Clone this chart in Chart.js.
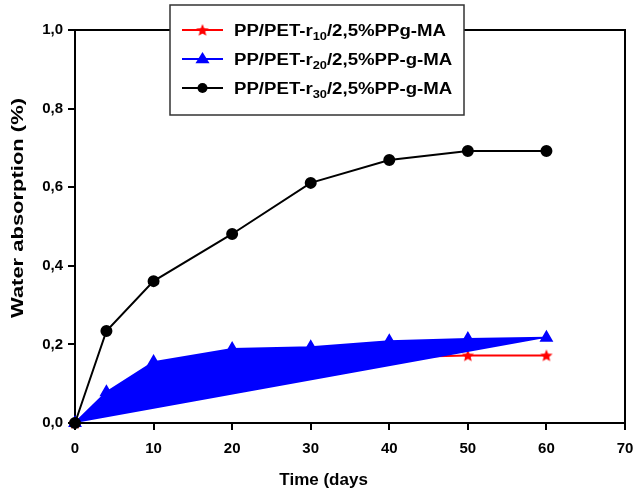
<!DOCTYPE html>
<html>
<head>
<meta charset="utf-8">
<script src="https://cdn.jsdelivr.net/npm/chart.js@4/dist/chart.umd.min.js"></script>
<style>
  html, body { margin: 0; padding: 0; background: #fff; }
  #wrap { width: 634px; height: 491px; position: relative; }
</style>
</head>
<body>
<div id="wrap"><canvas id="c"></canvas></div>
<script>
// Immersion time (days) and water uptake (%) for each blend
const days = [0, 4, 10, 20, 30, 40, 50, 60];
const r10Values = [0, 0.06, 0.12, 0.15, 0.16, 0.167, 0.172, 0.172];
const r20Values = [0, 0.078, 0.155, 0.188, 0.193, 0.208, 0.214, 0.217];
const r30Values = [0, 0.234, 0.361, 0.481, 0.611, 0.669, 0.692, 0.692];

// Axis ticks
const xTicks = [0, 10, 20, 30, 40, 50, 60, 70];
const yTicks = [0, 0.2, 0.4, 0.6, 0.8, 1.0];
const yTickLabels = ['0,0', '0,2', '0,4', '0,6', '0,8', '1,0'];

// Legend names: [base, subscript, rest]
const seriesNames = [
  ['PP/PET-r', '10', '/2,5%PPg-MA'],
  ['PP/PET-r', '20', '/2,5%PP-g-MA'],
  ['PP/PET-r', '30', '/2,5%PP-g-MA']
];
const xTitle = 'Time (days';
const yTitle = 'Water absorption (%)';

const FONT = "'Liberation Sans', Arial, Helvetica, sans-serif";
const RED = '#ff0000', BLUE = '#0000ff', BLACK = '#000000';

const toPoints = (xs, ys) => xs.map((x, i) => ({ x: x, y: ys[i] }));
const r20Points = toPoints(days, r20Values);
// closing chord of the r20 band: first point to last point
const r20Chord = [r20Points[0], r20Points[r20Points.length - 1]];

// filled five-point star marker
function makeStar(size, color) {
  const cv = document.createElement('canvas');
  cv.width = size; cv.height = size;
  const g = cv.getContext('2d');
  const cx = size / 2, cy = size / 2, ro = size / 2 - 0.5, ri = ro * 0.45;
  g.beginPath();
  for (let i = 0; i < 10; i++) {
    const r = i % 2 === 0 ? ro : ri;
    const a = -Math.PI / 2 + i * Math.PI / 5;
    const px = cx + r * Math.cos(a), py = cy + r * Math.sin(a) + 0.6;
    if (i === 0) g.moveTo(px, py); else g.lineTo(px, py);
  }
  g.closePath();
  g.fillStyle = color;
  g.fill();
  return cv;
}
const starImg = makeStar(14, RED);

function drawMarker(ctx, style, x, y) {
  ctx.save();
  if (style === 'star') {
    ctx.drawImage(starImg, x - 7, y - 7);
  } else if (style === 'triangle') {
    const r = 7;
    ctx.beginPath();
    ctx.moveTo(x, y - r);
    ctx.lineTo(x + r, y + r * 0.6);
    ctx.lineTo(x - r, y + r * 0.6);
    ctx.closePath();
    ctx.fillStyle = BLUE;
    ctx.fill();
  } else {
    ctx.beginPath();
    ctx.arc(x, y, 5, 0, Math.PI * 2);
    ctx.fillStyle = BLACK;
    ctx.fill();
  }
  ctx.restore();
}

// draw a label made of [base, subscript, rest], stretched to a given width
function labelWidth(ctx, parts) {
  ctx.font = 'bold 16px ' + FONT;
  let w = ctx.measureText(parts[0]).width + ctx.measureText(parts[2]).width;
  ctx.font = 'bold 11px ' + FONT;
  return w + ctx.measureText(parts[1]).width;
}
function drawLabel(ctx, parts, x, y, sx) {
  ctx.save();
  ctx.translate(x, y);
  ctx.scale(sx, 1);
  ctx.fillStyle = BLACK;
  ctx.textAlign = 'left';
  ctx.textBaseline = 'alphabetic';
  let cx = 0;
  ctx.font = 'bold 16px ' + FONT;
  ctx.fillText(parts[0], cx, 0);
  cx += ctx.measureText(parts[0]).width;
  ctx.font = 'bold 11px ' + FONT;
  ctx.fillText(parts[1], cx, 4);
  cx += ctx.measureText(parts[1]).width;
  ctx.font = 'bold 16px ' + FONT;
  ctx.fillText(parts[2], cx, 0);
  ctx.restore();
}

const decorations = {
  id: 'decorations',
  beforeDatasetsDraw(chart) {
    const { ctx, chartArea: a } = chart;
    ctx.save();
    ctx.strokeStyle = BLACK;
    ctx.lineWidth = 2;
    ctx.beginPath();
    ctx.moveTo(a.left, a.top);
    ctx.lineTo(a.right, a.top);
    ctx.lineTo(a.right, a.bottom);
    ctx.stroke();
    ctx.restore();
  },
  afterDraw(chart) {
    const { ctx, chartArea: a } = chart;
    ctx.save();
    // axis titles
    ctx.fillStyle = BLACK;
    ctx.font = 'bold 17px ' + FONT;
    ctx.textAlign = 'center';
    ctx.textBaseline = 'middle';
    ctx.fillText(xTitle, a.left + a.width * 0.452, 480);
    ctx.translate(18, a.top + a.height * 0.453);
    ctx.rotate(-Math.PI / 2);
    ctx.font = 'bold 17px ' + FONT;
    const yw = ctx.measureText(yTitle).width;
    ctx.scale(220 / yw, 1);
    ctx.fillText(yTitle, 0, 0);
    ctx.restore();

    // legend box
    const box = { l: 170, t: 5, r: 464, b: 115 };
    ctx.save();
    ctx.fillStyle = '#fff';
    ctx.fillRect(box.l, box.t, box.r - box.l, box.b - box.t);
    ctx.strokeStyle = '#333';
    ctx.lineWidth = 1.5;
    ctx.strokeRect(box.l, box.t, box.r - box.l, box.b - box.t);
    const rows = [30, 59, 88];
    const styles = ['star', 'triangle', 'circle'];
    const colors = [RED, BLUE, BLACK];
    const sx = 212 / labelWidth(ctx, seriesNames[0]);
    rows.forEach((y, i) => {
      ctx.strokeStyle = colors[i];
      ctx.lineWidth = 2;
      ctx.beginPath();
      ctx.moveTo(182, y);
      ctx.lineTo(223, y);
      ctx.stroke();
      drawMarker(ctx, styles[i], 202.5, y);
      drawLabel(ctx, seriesNames[i], 234, y + 6, sx);
    });
    ctx.restore();
  }
};

new Chart(document.getElementById('c'), {
  type: 'line',
  data: {
    datasets: [
      {
        label: seriesNames[2].join(''),
        data: toPoints(days, r30Values),
        borderColor: BLACK, backgroundColor: BLACK,
        borderWidth: 2, pointStyle: 'circle', pointRadius: 5,
        fill: false, order: 0, clip: false
      },
      {
        label: seriesNames[1].join(''),
        data: r20Points,
        borderColor: BLUE, backgroundColor: BLUE,
        borderWidth: 2, pointStyle: 'triangle', pointRadius: 6,
        fill: { target: 3 }, order: 1, clip: false
      },
      {
        label: seriesNames[0].join(''),
        data: toPoints(days, r10Values),
        borderColor: RED, backgroundColor: RED,
        borderWidth: 2, pointStyle: starImg, pointRadius: 7,
        fill: false, order: 2, clip: false
      },
      {
        label: 'chord',
        data: r20Chord,
        borderColor: 'rgba(0,0,255,0)', borderWidth: 0,
        pointRadius: 0, fill: false, order: 3
      }
    ]
  },
  options: {
    responsive: true,
    maintainAspectRatio: false,
    animation: false,
    layout: { padding: { top: 30, right: 8, left: 0, bottom: 0 } },
    plugins: { legend: { display: false }, tooltip: { enabled: false } },
    elements: { line: { tension: 0 } },
    scales: {
      x: {
        type: 'linear', min: 0, max: 70,
        afterBuildTicks: s => { s.ticks = xTicks.map(v => ({ value: v })); },
        afterFit: s => { s.height = 68; s.paddingLeft = 0; s.paddingRight = 0; },
        grid: { drawOnChartArea: false, drawTicks: true, tickLength: 7, color: BLACK, lineWidth: 2 },
        border: { display: true, color: BLACK, width: 2 },
        ticks: { color: BLACK, padding: 10, maxRotation: 0, autoSkip: false,
                 font: { family: FONT, size: 15, weight: 'bold' } }
      },
      y: {
        type: 'linear', min: 0, max: 1,
        afterBuildTicks: s => { s.ticks = yTicks.map(v => ({ value: v })); },
        afterFit: s => { s.width = 75; s.paddingTop = 0; s.paddingBottom = 0; },
        grid: { drawOnChartArea: false, drawTicks: true, tickLength: 7, color: BLACK, lineWidth: 2 },
        border: { display: true, color: BLACK, width: 2 },
        ticks: { color: BLACK, padding: 5, autoSkip: false,
                 callback: (v, i) => yTickLabels[i],
                 font: { family: FONT, size: 15, weight: 'bold' } }
      }
    }
  },
  plugins: [decorations]
});
</script>
</body>
</html>
